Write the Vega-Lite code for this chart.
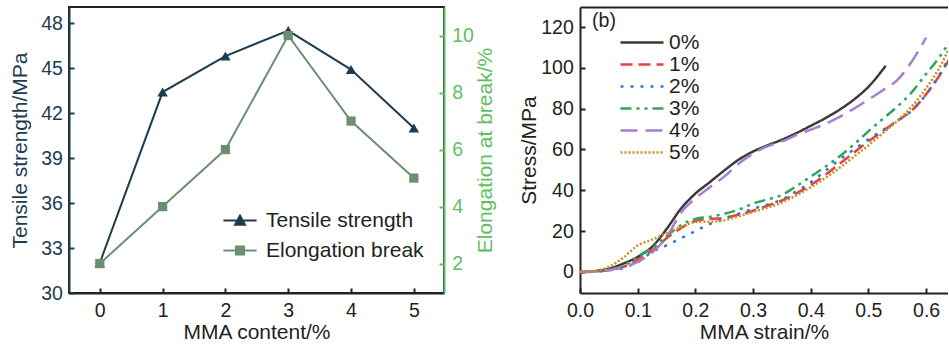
{
  "$schema": "https://vega.github.io/schema/vega-lite/v6.json",
  "autosize": {"type": "pad"},
  "padding": {"left": 8, "top": 6, "right": 0, "bottom": 0},
  "background": "white",
  "spacing": 21,
  "resolve": {"scale": {"color": "independent", "shape": "independent", "strokeDash": "independent"}, "legend": {"color": "independent", "shape": "independent", "strokeDash": "independent"}},
  "config": {
    "font": "Liberation Sans",
    "axis": {
      "labelFont": "Liberation Sans", "labelFontSize": 19.5, "labelColor": "#231f20",
      "titleFont": "Liberation Sans", "titleFontSize": 21, "titleFontWeight": "normal", "titleColor": "#231f20",
      "tickSize": -5, "tickWidth": 2, "tickColor": "#222222", "labelFlush": false,
      "domainWidth": 2, "domainColor": "#222222", "grid": false, "labelPadding": 11
    },
    "legend": {"labelFont": "Liberation Sans", "labelFontSize": 21, "labelColor": "#231f20"}
  },
  "hconcat": [
    {
      "width": 375,
      "height": 286,
      "view": {"stroke": "#222222", "strokeWidth": 2},
      "data": {"values": [
        {"c": 0, "series": "Tensile strength", "v": 32.0},
        {"c": 1, "series": "Tensile strength", "v": 43.4},
        {"c": 2, "series": "Tensile strength", "v": 45.8},
        {"c": 3, "series": "Tensile strength", "v": 47.5},
        {"c": 4, "series": "Tensile strength", "v": 44.9},
        {"c": 5, "series": "Tensile strength", "v": 41.0},
        {"c": 0, "series": "Elongation break", "v": 2},
        {"c": 1, "series": "Elongation break", "v": 4},
        {"c": 2, "series": "Elongation break", "v": 6},
        {"c": 3, "series": "Elongation break", "v": 10},
        {"c": 4, "series": "Elongation break", "v": 7},
        {"c": 5, "series": "Elongation break", "v": 5}
      ]},
      "encoding": {
        "x": {"field": "c", "type": "quantitative",
          "scale": {"domain": [-0.49, 5.48], "nice": false, "zero": false},
          "axis": {"orient": "bottom", "values": [0, 1, 2, 3, 4, 5], "title": "MMA content/%", "labelPadding": 13, "titlePadding": 2}},
        "color": {"field": "series", "type": "nominal",
          "scale": {"domain": ["Tensile strength", "Elongation break"], "range": ["#1d3c50", "#6b8f72"]},
          "legend": {
            "title": null, "orient": "none", "legendX": 153, "legendY": 198.5,
            "symbolSize": 1100, "symbolStrokeWidth": 2, "labelOffset": 8, "rowPadding": 0, "clipHeight": 30,
            "encode": {"symbols": {"update": {
              "shape": {"signal": "datum.value === 'Tensile strength' ? 'M-1,0H1M-0.3,0.26L0.3,0.26L0,-0.3Z' : 'M-1,0H1M-0.24,-0.24H0.24V0.24H-0.24Z'"},
              "stroke": {"signal": "datum.value === 'Tensile strength' ? '#1d3c50' : '#6b8f72'"},
              "fill": {"signal": "datum.value === 'Tensile strength' ? '#1d3c50' : '#6b8f72'"},
              "strokeWidth": {"value": 2},
              "opacity": {"value": 1}
            }}}
          }}
      },
      "layer": [
        {
          "layer": [
            {
              "transform": [{"filter": "datum.series === 'Tensile strength'"}],
              "mark": {"type": "line", "strokeWidth": 2},
              "encoding": {
                "y": {"field": "v", "type": "quantitative",
                  "scale": {"domain": [30, 49.07], "nice": false, "zero": false},
                  "axis": {"orient": "left", "values": [30, 33, 36, 39, 42, 45, 48], "title": "Tensile strength/MPa",
                    "labelColor": "#1d3c50", "titleColor": "#1d3c50", "domainColor": "#1d3c50", "tickColor": "#1d3c50",
                    "labelPadding": 11.6, "titlePadding": 10}}
              }
            },
            {
              "transform": [{"filter": "datum.series === 'Tensile strength'"}],
              "mark": {"type": "point", "filled": true, "opacity": 1, "size": 110, "shape": "triangle-up"},
              "encoding": {
                "y": {"field": "v", "type": "quantitative"}
              }
            },
            {
              "data": {"values": [{}]},
              "mark": {"type": "text", "align": "left", "baseline": "middle", "fontSize": 19.5, "font": "Liberation Sans"},
              "encoding": {
                "x": {"datum": -0.3},
                "y": {"datum": 48.1},
                "text": {"value": "(a)"},
                "color": {"value": "#231f20"}
              }
            }
          ]
        },
        {
          "layer": [
            {
              "transform": [{"filter": "datum.series === 'Elongation break'"}],
              "mark": {"type": "line", "strokeWidth": 2},
              "encoding": {
                "y": {"field": "v", "type": "quantitative",
                  "scale": {"domain": [0.97, 11.0], "nice": false, "zero": false},
                  "axis": {"orient": "right", "values": [2, 4, 6, 8, 10], "title": "Elongation at break/%", "titleAngle": 270,
                    "labelColor": "#5fbf5f", "titleColor": "#5fbf5f", "domainColor": "#5fbf5f", "tickColor": "#5fbf5f",
                    "labelPadding": 12.7, "titlePadding": 22}}
              }
            },
            {
              "transform": [{"filter": "datum.series === 'Elongation break'"}],
              "mark": {"type": "point", "filled": true, "opacity": 1, "size": 85, "shape": "square"},
              "encoding": {
                "y": {"field": "v", "type": "quantitative"}
              }
            }
          ]
        }
      ],
      "resolve": {"scale": {"y": "independent"}}
    },
    {
      "width": 368,
      "height": 286,
      "view": {"stroke": null},
      "layer": [
        {
          "data": {"values": [
            {"s": "0%", "x": 0, "y": 0}, {"s": "0%", "x": 0.025, "y": 0.4}, {"s": "0%", "x": 0.05, "y": 1.6}, {"s": "0%", "x": 0.075, "y": 4.1},
            {"s": "0%", "x": 0.1, "y": 7.4}, {"s": "0%", "x": 0.125, "y": 12.3}, {"s": "0%", "x": 0.15, "y": 21}, {"s": "0%", "x": 0.175, "y": 31},
            {"s": "0%", "x": 0.2, "y": 38.4}, {"s": "0%", "x": 0.225, "y": 44}, {"s": "0%", "x": 0.25, "y": 49.7}, {"s": "0%", "x": 0.275, "y": 55},
            {"s": "0%", "x": 0.3, "y": 59}, {"s": "0%", "x": 0.325, "y": 62}, {"s": "0%", "x": 0.35, "y": 64.8}, {"s": "0%", "x": 0.375, "y": 68},
            {"s": "0%", "x": 0.4, "y": 71.6}, {"s": "0%", "x": 0.425, "y": 75.3}, {"s": "0%", "x": 0.45, "y": 79.5}, {"s": "0%", "x": 0.475, "y": 84.5},
            {"s": "0%", "x": 0.5, "y": 90.7}, {"s": "0%", "x": 0.53, "y": 101},

            {"s": "1%", "x": 0, "y": 0}, {"s": "1%", "x": 0.025, "y": 0.2}, {"s": "1%", "x": 0.05, "y": 0.8}, {"s": "1%", "x": 0.075, "y": 2.5},
            {"s": "1%", "x": 0.1, "y": 6}, {"s": "1%", "x": 0.125, "y": 10.5}, {"s": "1%", "x": 0.15, "y": 16.5}, {"s": "1%", "x": 0.175, "y": 21.5},
            {"s": "1%", "x": 0.2, "y": 25}, {"s": "1%", "x": 0.225, "y": 26}, {"s": "1%", "x": 0.25, "y": 26.5}, {"s": "1%", "x": 0.275, "y": 28},
            {"s": "1%", "x": 0.3, "y": 30}, {"s": "1%", "x": 0.325, "y": 32.5}, {"s": "1%", "x": 0.35, "y": 35}, {"s": "1%", "x": 0.375, "y": 38.5},
            {"s": "1%", "x": 0.4, "y": 42.6}, {"s": "1%", "x": 0.425, "y": 47.5}, {"s": "1%", "x": 0.45, "y": 53}, {"s": "1%", "x": 0.475, "y": 58.5},
            {"s": "1%", "x": 0.5, "y": 64}, {"s": "1%", "x": 0.525, "y": 69}, {"s": "1%", "x": 0.55, "y": 74}, {"s": "1%", "x": 0.575, "y": 79},
            {"s": "1%", "x": 0.6, "y": 87}, {"s": "1%", "x": 0.625, "y": 97}, {"s": "1%", "x": 0.645, "y": 106.5},

            {"s": "2%", "x": 0, "y": 0}, {"s": "2%", "x": 0.025, "y": 0.2}, {"s": "2%", "x": 0.05, "y": 0.8}, {"s": "2%", "x": 0.075, "y": 2},
            {"s": "2%", "x": 0.1, "y": 4.9}, {"s": "2%", "x": 0.125, "y": 9.8}, {"s": "2%", "x": 0.15, "y": 13}, {"s": "2%", "x": 0.175, "y": 16.5},
            {"s": "2%", "x": 0.2, "y": 20}, {"s": "2%", "x": 0.225, "y": 23.5}, {"s": "2%", "x": 0.25, "y": 26}, {"s": "2%", "x": 0.275, "y": 28.5},
            {"s": "2%", "x": 0.3, "y": 31}, {"s": "2%", "x": 0.325, "y": 33}, {"s": "2%", "x": 0.35, "y": 35.5}, {"s": "2%", "x": 0.375, "y": 39.5},
            {"s": "2%", "x": 0.4, "y": 44}, {"s": "2%", "x": 0.425, "y": 49.5}, {"s": "2%", "x": 0.45, "y": 55}, {"s": "2%", "x": 0.475, "y": 60},
            {"s": "2%", "x": 0.5, "y": 65}, {"s": "2%", "x": 0.525, "y": 69.5}, {"s": "2%", "x": 0.55, "y": 74}, {"s": "2%", "x": 0.575, "y": 79},
            {"s": "2%", "x": 0.6, "y": 87}, {"s": "2%", "x": 0.625, "y": 97.5}, {"s": "2%", "x": 0.645, "y": 108},

            {"s": "3%", "x": 0, "y": 0}, {"s": "3%", "x": 0.025, "y": 0.3}, {"s": "3%", "x": 0.05, "y": 1}, {"s": "3%", "x": 0.075, "y": 3},
            {"s": "3%", "x": 0.1, "y": 7.5}, {"s": "3%", "x": 0.125, "y": 12}, {"s": "3%", "x": 0.15, "y": 17.5}, {"s": "3%", "x": 0.175, "y": 23},
            {"s": "3%", "x": 0.2, "y": 26}, {"s": "3%", "x": 0.225, "y": 27}, {"s": "3%", "x": 0.25, "y": 28.5}, {"s": "3%", "x": 0.275, "y": 30.5},
            {"s": "3%", "x": 0.3, "y": 33.5}, {"s": "3%", "x": 0.325, "y": 35.5}, {"s": "3%", "x": 0.35, "y": 37.7}, {"s": "3%", "x": 0.375, "y": 42},
            {"s": "3%", "x": 0.4, "y": 46.7}, {"s": "3%", "x": 0.425, "y": 51.5}, {"s": "3%", "x": 0.45, "y": 56.6}, {"s": "3%", "x": 0.475, "y": 62.5},
            {"s": "3%", "x": 0.5, "y": 68.9}, {"s": "3%", "x": 0.525, "y": 75}, {"s": "3%", "x": 0.55, "y": 81}, {"s": "3%", "x": 0.575, "y": 88},
            {"s": "3%", "x": 0.6, "y": 97}, {"s": "3%", "x": 0.625, "y": 106}, {"s": "3%", "x": 0.645, "y": 115},

            {"s": "4%", "x": 0, "y": 0}, {"s": "4%", "x": 0.025, "y": 0.3}, {"s": "4%", "x": 0.05, "y": 1}, {"s": "4%", "x": 0.075, "y": 2.5},
            {"s": "4%", "x": 0.1, "y": 5}, {"s": "4%", "x": 0.125, "y": 9.5}, {"s": "4%", "x": 0.15, "y": 17}, {"s": "4%", "x": 0.175, "y": 29},
            {"s": "4%", "x": 0.2, "y": 36}, {"s": "4%", "x": 0.225, "y": 41.5}, {"s": "4%", "x": 0.25, "y": 46.7}, {"s": "4%", "x": 0.275, "y": 53},
            {"s": "4%", "x": 0.3, "y": 58}, {"s": "4%", "x": 0.325, "y": 61.5}, {"s": "4%", "x": 0.35, "y": 64}, {"s": "4%", "x": 0.375, "y": 67},
            {"s": "4%", "x": 0.4, "y": 69.7}, {"s": "4%", "x": 0.425, "y": 72.5}, {"s": "4%", "x": 0.45, "y": 76}, {"s": "4%", "x": 0.475, "y": 80},
            {"s": "4%", "x": 0.5, "y": 84.4}, {"s": "4%", "x": 0.525, "y": 89}, {"s": "4%", "x": 0.55, "y": 94}, {"s": "4%", "x": 0.575, "y": 103},
            {"s": "4%", "x": 0.6, "y": 114.8},

            {"s": "5%", "x": 0, "y": 0}, {"s": "5%", "x": 0.025, "y": 0.5}, {"s": "5%", "x": 0.05, "y": 2.5}, {"s": "5%", "x": 0.075, "y": 7},
            {"s": "5%", "x": 0.1, "y": 13}, {"s": "5%", "x": 0.125, "y": 15.8}, {"s": "5%", "x": 0.15, "y": 19}, {"s": "5%", "x": 0.175, "y": 22},
            {"s": "5%", "x": 0.2, "y": 24.5}, {"s": "5%", "x": 0.225, "y": 24.6}, {"s": "5%", "x": 0.25, "y": 25.3}, {"s": "5%", "x": 0.275, "y": 27.3},
            {"s": "5%", "x": 0.3, "y": 29.4}, {"s": "5%", "x": 0.325, "y": 31.5}, {"s": "5%", "x": 0.35, "y": 34}, {"s": "5%", "x": 0.375, "y": 37.5},
            {"s": "5%", "x": 0.4, "y": 41.5}, {"s": "5%", "x": 0.425, "y": 46}, {"s": "5%", "x": 0.45, "y": 51}, {"s": "5%", "x": 0.475, "y": 56.5},
            {"s": "5%", "x": 0.5, "y": 62}, {"s": "5%", "x": 0.525, "y": 68}, {"s": "5%", "x": 0.55, "y": 74}, {"s": "5%", "x": 0.575, "y": 81},
            {"s": "5%", "x": 0.6, "y": 90}, {"s": "5%", "x": 0.625, "y": 101}, {"s": "5%", "x": 0.645, "y": 113}
          ]},
          "mark": {"type": "line", "clip": true, "strokeWidth": 2.5, "interpolate": "monotone"},
          "encoding": {
            "x": {"field": "x", "type": "quantitative",
              "scale": {"domain": [0, 0.638], "nice": false, "zero": false},
              "axis": {"orient": "bottom", "values": [0, 0.1, 0.2, 0.3, 0.4, 0.5, 0.6], "format": ".1f", "title": "MMA strain/%", "labelPadding": 13, "titlePadding": 2}},
            "y": {"field": "y", "type": "quantitative",
              "scale": {"domain": [-10.3, 129.8], "nice": false, "zero": false},
              "axis": {"values": [0, 20, 40, 60, 80, 100, 120], "title": "Stress/MPa", "labelPadding": 11.7, "titlePadding": 1}},
            "color": {"field": "s", "type": "nominal",
              "scale": {"domain": ["0%", "1%", "2%", "3%", "4%", "5%"], "range": ["#3a3a3a", "#e8403c", "#2a78d2", "#2ea55a", "#a67fd0", "#c8901e"]},
              "legend": {"title": null, "orient": "none", "legendX": 39, "legendY": 24.5, "symbolType": "stroke", "symbolSize": 1849, "symbolStrokeWidth": 2.5, "labelOffset": 4, "rowPadding": 0, "clipHeight": 22}},
            "strokeDash": {"field": "s", "type": "nominal",
              "scale": {"domain": ["0%", "1%", "2%", "3%", "4%", "5%"], "range": [[1, 0], [12, 6], [3, 7], [11, 5, 3, 5, 3, 5], [17, 8], [2, 2]]},
              "legend": {"title": null, "orient": "none", "legendX": 39, "legendY": 24.5, "symbolType": "stroke", "symbolSize": 1849, "symbolStrokeWidth": 2.5, "labelOffset": 4, "rowPadding": 0, "clipHeight": 22}}
          }
        },
        {
          "data": {"values": [{}]},
          "mark": {"type": "text", "align": "left", "baseline": "middle", "fontSize": 19.5, "color": "#231f20", "font": "Liberation Sans"},
          "encoding": {
            "x": {"datum": 0.021, "axis": {"orient": "top", "labels": false, "ticks": false, "title": null, "domain": true, "domainColor": "#222222", "domainWidth": 2}},
            "y": {"datum": 123},
            "text": {"value": "(b)"}
          }
        }
      ]
    }
  ]
}
